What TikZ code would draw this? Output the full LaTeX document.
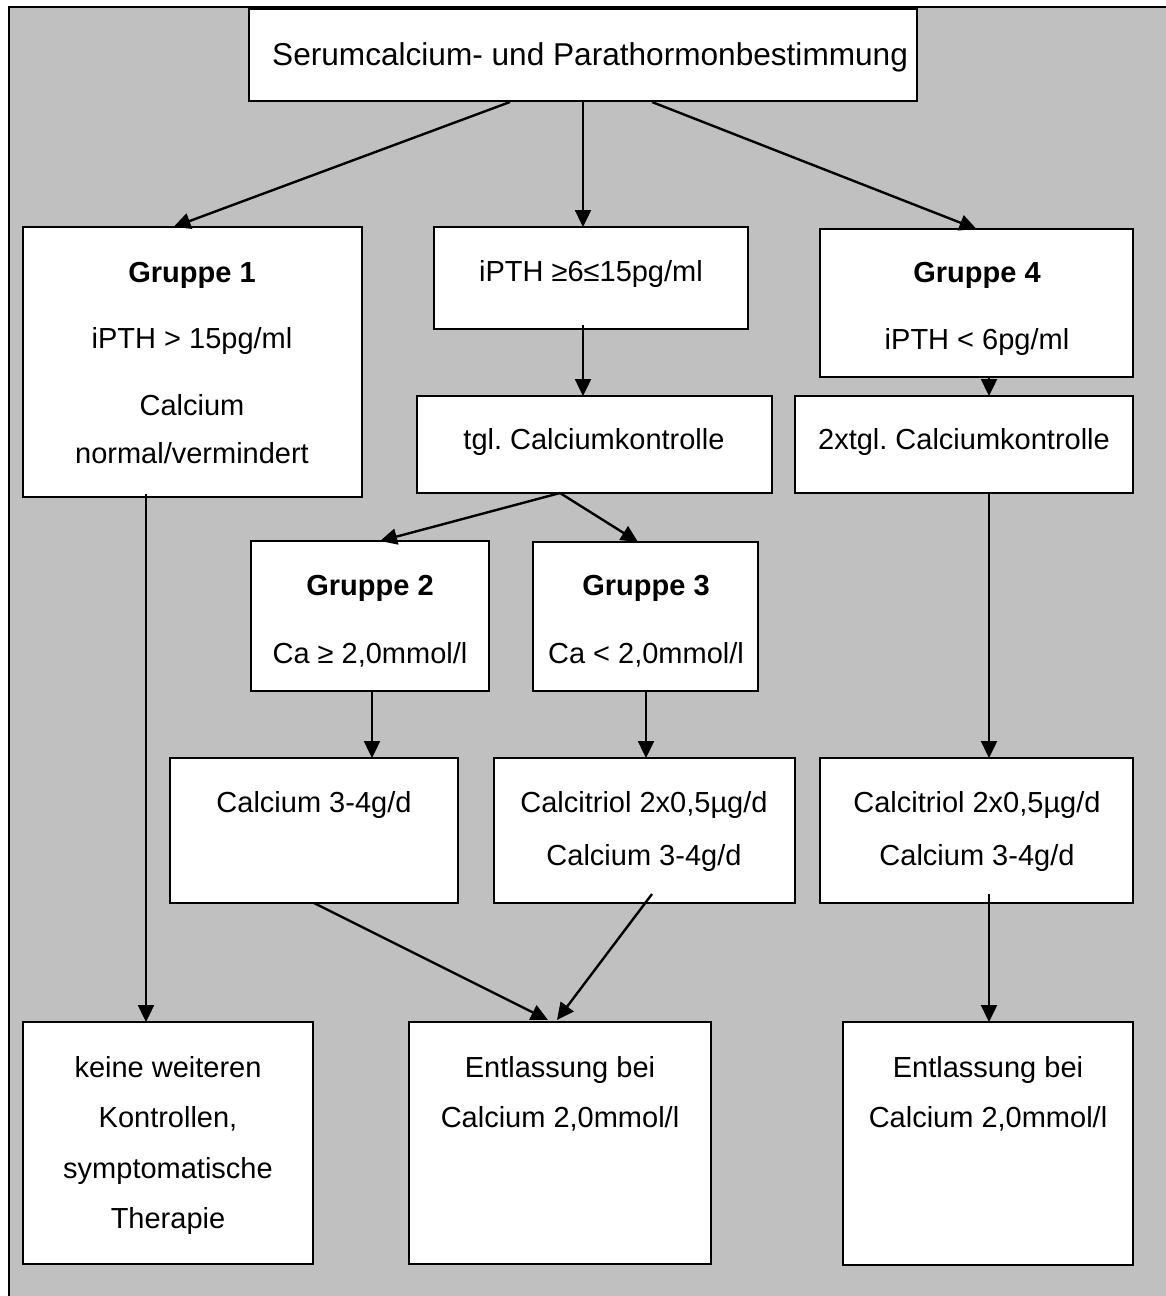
\documentclass[tikz,border=0pt]{standalone}
\usepackage{fontspec}
\setmainfont{Liberation Sans}
\usetikzlibrary{arrows.meta}
\definecolor{panelgray}{HTML}{C0C0C0}
\frenchspacing
\begin{document}
\begin{tikzpicture}[x=1pt,y=-1pt,
  flowbox/.style={draw=black,line width=2.2pt,fill=white,inner sep=0pt,outer sep=0pt,anchor=north west},
  txt/.style={anchor=base,inner sep=0pt,font=\fontsize{29}{34}\selectfont},
  txtb/.style={txt,font=\fontsize{29}{34}\selectfont\bfseries},
  arr/.style={line width=2.4pt,-{Triangle[length=17pt,width=16pt]}}]
\useasboundingbox (0,0) rectangle (1166,1296);
% panel
\fill[panelgray] (8,6) rectangle (1166,1296);
\draw[line width=2.6pt] (9,1296) -- (9,7) -- (1166,7);

% boxes
\node[flowbox,minimum width=668pt,minimum height=92pt]  (top)   at (249,9) {};
\node[flowbox,minimum width=339pt,minimum height=270pt] (g1)    at (23,227) {};
\node[flowbox,minimum width=314pt,minimum height=102pt] (mid)   at (434,227) {};
\node[flowbox,minimum width=313pt,minimum height=148pt] (g4)    at (820,229) {};
\node[flowbox,minimum width=355pt,minimum height=97pt]  (tgl)   at (417,396) {};
\node[flowbox,minimum width=338pt,minimum height=97pt]  (twice) at (795,396) {};
\node[flowbox,minimum width=238pt,minimum height=150pt] (g2)    at (251,541) {};
\node[flowbox,minimum width=225pt,minimum height=149pt] (g3)    at (533,542) {};
\node[flowbox,minimum width=288pt,minimum height=145pt] (ca)    at (170,758) {};
\node[flowbox,minimum width=301pt,minimum height=145pt] (ctm)   at (494,758) {};
\node[flowbox,minimum width=313pt,minimum height=145pt] (ctr)   at (820,758) {};
\node[flowbox,minimum width=290pt,minimum height=242pt] (bl)    at (23,1022) {};
\node[flowbox,minimum width=302pt,minimum height=242pt] (bm)    at (409,1022) {};
\node[flowbox,minimum width=290pt,minimum height=243pt] (br)    at (843,1022) {};

% texts
\node[txt,font=\fontsize{31.6}{38}\selectfont,anchor=base west] (ttop) at (272,65) {Serumcalcium- und Parathormonbestimmung};

\node[txtb] (tg1a) at (192,282) {Gruppe 1};
\node[txt]  (tg1b) at (192,348) {iPTH > 15pg/ml};
\node[txt]  (tg1c) at (192,415) {Calcium};
\node[txt]  (tg1d) at (192,463) {normal/vermindert};

\node[txt]  (tmid) at (591,281) {iPTH ≥6≤15pg/ml};

\node[txtb] (tg4a) at (977,282) {Gruppe 4};
\node[txt]  (tg4b) at (977,349) {iPTH < 6pg/ml};

\node[txt]  (ttgl)   at (594,449) {tgl. Calciumkontrolle};
\node[txt]  (ttwice) at (964,449) {2xtgl. Calciumkontrolle};

\node[txtb] (tg2a) at (370,595) {Gruppe 2};
\node[txt]  (tg2b) at (370,663) {Ca ≥ 2,0mmol/l};
\node[txtb] (tg3a) at (646,595) {Gruppe 3};
\node[txt]  (tg3b) at (646,663) {Ca < 2,0mmol/l};

\node[txt]  (tca)   at (314,812) {Calcium 3-4g/d};
\node[txt]  (tctma) at (644,812) {Calcitriol 2x0,5µg/d};
\node[txt]  (tctmb) at (644,865) {Calcium 3-4g/d};
\node[txt]  (tctra) at (977,812) {Calcitriol 2x0,5µg/d};
\node[txt]  (tctrb) at (977,865) {Calcium 3-4g/d};

\node[txt]  (tbla) at (168,1077) {keine weiteren};
\node[txt]  (tblb) at (168,1127) {Kontrollen,};
\node[txt]  (tblc) at (168,1178) {symptomatische};
\node[txt]  (tbld) at (168,1228) {Therapie};

\node[txt]  (tbma) at (560,1077) {Entlassung bei};
\node[txt]  (tbmb) at (560,1127) {Calcium 2,0mmol/l};
\node[txt]  (tbra) at (988,1077) {Entlassung bei};
\node[txt]  (tbrb) at (988,1127) {Calcium 2,0mmol/l};

% connectors
\draw[arr] ([xshift=-73pt,yshift=-1pt]top.south) -- ([xshift=-19pt]g1.north);
\draw[arr] (top.south) -- (top.south |- mid.north);
\draw[arr] ([xshift=69pt,yshift=-1pt]top.south) -- (g4.north);
\draw[arr] ([xshift=-8pt,yshift=4pt]mid.south) -- ([xshift=-8pt]mid.south |- tgl.north);
\draw[arr] ([xshift=12.5pt]g4.south) -- ([xshift=12.5pt]g4.south |- twice.north);
\draw[arr] ([xshift=-34.5pt]tgl.south) -- ([xshift=10pt]g2.north);
\draw[arr] ([xshift=-34.5pt]tgl.south) -- ([xshift=-7.5pt]g3.north);
\draw[arr] ([xshift=2pt]g2.south) -- ([xshift=2pt]g2.south |- ca.north);
\draw[arr] ([xshift=0.5pt]g3.south) -- ([xshift=0.5pt]g3.south |- ctm.north);
\draw[arr] ([xshift=25pt]twice.south) -- ([xshift=25pt]twice.south |- ctr.north);
\draw[arr] ([xshift=-46.5pt,yshift=3pt]g1.south) -- ([xshift=-46.5pt]g1.south |- bl.north);
\draw[arr] (ca.south) -- ([xshift=-12pt,yshift=2pt]bm.north);
\draw[arr] ([xshift=7.5pt,yshift=9pt]ctm.south) -- ([xshift=-3pt,yshift=2pt]bm.north);
\draw[arr] ([xshift=12.5pt,yshift=9pt]ctr.south) -- ([xshift=12.5pt]ctr.south |- br.north);
\end{tikzpicture}
\end{document}
